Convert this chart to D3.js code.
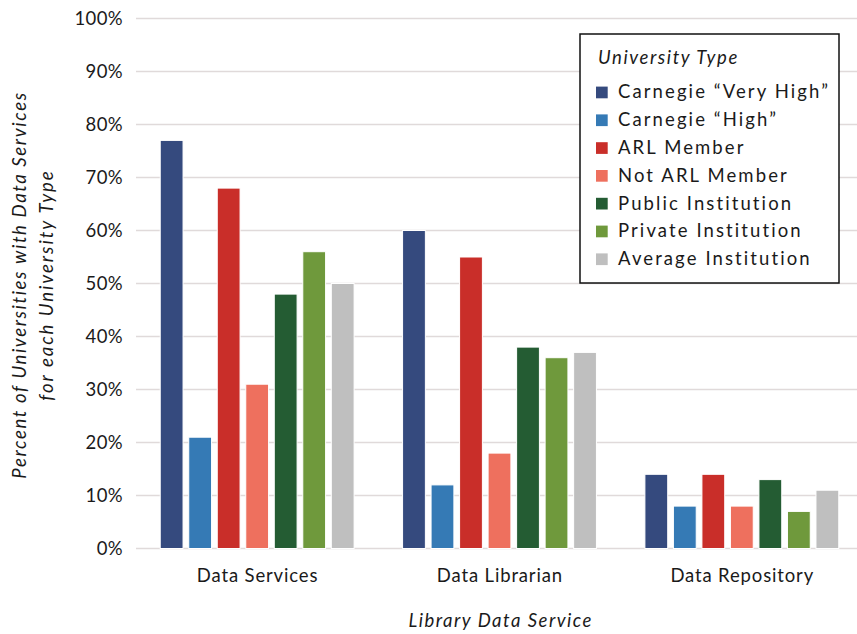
<!DOCTYPE html>
<html>
<head>
<meta charset="utf-8">
<script src="https://cdn.jsdelivr.net/npm/d3@7"></script>
<style>
  body { margin: 0; background: #fff; }
  svg { display: block; font-family: Lato, "Open Sans", sans-serif; }
</style>
</head>
<body>
<svg id="chart" width="857" height="634"></svg>
<script>
// --- data ---
const categories = ["Data Services", "Data Librarian", "Data Repository"];
const seriesNames = [
  "Carnegie \u201cVery High\u201d",
  "Carnegie \u201cHigh\u201d",
  "ARL Member",
  "Not ARL Member",
  "Public Institution",
  "Private Institution",
  "Average Institution"
];
const seriesColors = ["#354a7e", "#357ab5", "#c92e29", "#ee705e", "#245c33", "#6f993c", "#bfbfbf"];
// one array per series, values in percent, in category order
const veryHigh = [77, 60, 14];
const high = [21, 12, 8];
const arlMember = [68, 55, 14];
const notArl = [31, 18, 8];
const publicInst = [48, 38, 13];
const privateInst = [56, 36, 7];
const averageInst = [50, 37, 11];
const seriesValues = [veryHigh, high, arlMember, notArl, publicInst, privateInst, averageInst];
const yTicks = [0, 10, 20, 30, 40, 50, 60, 70, 80, 90, 100];

const svg = d3.select("#chart");

// --- params ---
const plotLeft = 136, plotRight = 863, plotTop = 18.5, plotBottom = 548.5;
const fontSize = 18.5;
const textColor = "#1a1a1a";

const x0 = d3.scaleBand().domain(categories).range([plotLeft, plotRight])
  .paddingInner(0.2).paddingOuter(0.1);
const x1 = d3.scaleBand().domain(d3.range(seriesNames.length))
  .range([0, x0.bandwidth()]).paddingInner(0.2).paddingOuter(0);
const y = d3.scaleLinear().domain([0, 100]).range([plotBottom, plotTop]);

// gridlines
svg.append("g")
  .selectAll("line")
  .data(yTicks)
  .join("line")
  .attr("x1", plotLeft)
  .attr("x2", 857)
  .attr("y1", (d) => y(d))
  .attr("y2", (d) => y(d))
  .attr("stroke", "#e0dada")
  .attr("stroke-width", 1.5);

// y tick labels
svg.append("g")
  .selectAll("text")
  .data(yTicks)
  .join("text")
  .attr("x", 123)
  .attr("y", (d) => y(d))
  .attr("dy", "0.36em")
  .attr("text-anchor", "end")
  .attr("font-size", fontSize)
  .attr("letter-spacing", 0.4)
  .attr("fill", textColor)
  .text((d) => d + "%");

// bars
const groups = svg.append("g")
  .selectAll("g")
  .data(categories)
  .join("g")
  .attr("transform", (d) => `translate(${x0(d)},0)`);

groups.selectAll("rect")
  .data((c, ci) => seriesValues.map((vals, si) => ({ si, v: vals[ci] })))
  .join("rect")
  .attr("x", (d) => x1(d.si))
  .attr("y", (d) => y(d.v))
  .attr("width", x1.bandwidth())
  .attr("height", (d) => y(0) - y(d.v))
  .attr("fill", (d) => seriesColors[d.si])
  .attr("stroke", "#fff")
  .attr("stroke-width", 1);

// x labels
svg.append("g")
  .selectAll("text")
  .data(categories)
  .join("text")
  .attr("x", (d) => x0(d) + x0.bandwidth() / 2 + 0.4)
  .attr("y", 582)
  .attr("text-anchor", "middle")
  .attr("font-size", fontSize)
  .attr("letter-spacing", 0.85)
  .attr("fill", textColor)
  .text((d) => d);

// axis titles
svg.append("text")
  .attr("x", 500.7)
  .attr("y", 627)
  .attr("text-anchor", "middle")
  .attr("font-size", fontSize)
  .attr("font-style", "italic")
  .attr("letter-spacing", 1.5)
  .attr("fill", textColor)
  .text("Library Data Service");

const yTitle = svg.append("text")
  .attr("transform", "rotate(-90)")
  .attr("text-anchor", "middle")
  .attr("font-size", fontSize)
  .attr("font-style", "italic")
  .attr("letter-spacing", 1.65)
  .attr("fill", textColor);
yTitle.append("tspan").attr("x", -285).attr("y", 26).text("Percent of Universities with Data Services");
yTitle.append("tspan").attr("x", -285).attr("y", 53).attr("letter-spacing", 2).text("for each University Type");

// legend
const lg = svg.append("g").attr("transform", "translate(580,34)");
lg.append("rect")
  .attr("width", 259)
  .attr("height", 249)
  .attr("fill", "#fff")
  .attr("stroke", "#111")
  .attr("stroke-width", 1.5);
lg.append("text")
  .attr("x", 18)
  .attr("y", 30)
  .attr("font-size", fontSize)
  .attr("font-style", "italic")
  .attr("letter-spacing", 1.6)
  .attr("fill", textColor)
  .text("University Type");
seriesNames.forEach((name, i) => {
  const by = 64.3 + i * 27.8;
  lg.append("rect")
    .attr("x", 16)
    .attr("y", by - 11.7)
    .attr("width", 11.7)
    .attr("height", 11.7)
    .attr("fill", seriesColors[i]);
  lg.append("text")
    .attr("x", 38)
    .attr("y", by)
    .attr("font-size", fontSize)
    .attr("letter-spacing", 2.1)
    .attr("fill", textColor)
    .text(name);
});
</script>
</body>
</html>
